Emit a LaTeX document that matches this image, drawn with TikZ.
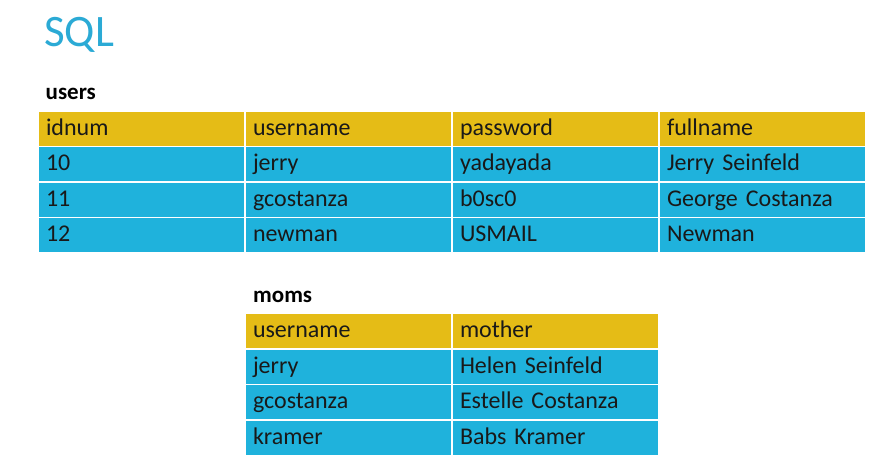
\documentclass[tikz,border=0pt]{standalone}
\usepackage{fontspec}
\setmainfont{Carlito}
\definecolor{headgold}{HTML}{E5BC16}
\definecolor{cellblue}{HTML}{1FB2DC}
\definecolor{titleblue}{HTML}{2BAAD5}
\tikzset{
  cell/.style={draw=white, line width=1.2pt, outer sep=0pt, inner xsep=8pt, inner ysep=0pt,
    text width=191pt, minimum height=35.5pt, text height=17pt, text depth=4pt,
    font=\fontsize{24}{28}\selectfont, text=black!90, anchor=north west},
  headcell/.style={cell, fill=headgold},
  bodycell/.style={cell, fill=cellblue},
  tablename/.style={font=\bfseries\fontsize{23}{27}\selectfont, anchor=base west, inner sep=0pt}
}
\begin{document}
\begin{tikzpicture}[x=1pt,y=-1pt]
    \useasboundingbox (0,0) rectangle (892,470);

    % title
    \node [anchor=base west, inner sep=0pt, text=titleblue, font=\fontsize{45}{50}\selectfont] (title) at (44,46.5) {SQL};

    % users table
    \node [tablename] (users) at (45.5,99.3) {users};
    \foreach \t [count=\i from 0] in {idnum,username,password,fullname}
        \node [headcell] (users-0-\i) at (38+207*\i,111) {\t};
    \foreach \a/\b/\c/\d [count=\r] in {10/jerry/yadayada/Jerry Seinfeld,
                                       11/gcostanza/b0sc0/George Costanza,
                                       12/newman/USMAIL/Newman} {
        \node [bodycell] (users-\r-0) at (38,111+35.5*\r) {\a};
        \node [bodycell] (users-\r-1) at (245,111+35.5*\r) {\b};
        \node [bodycell] (users-\r-2) at (452,111+35.5*\r) {\c};
        \node [bodycell] (users-\r-3) at (659,111+35.5*\r) {\d};
    }

    % moms table
    \node [tablename] (moms) at (253,302.3) {moms};
    \node [headcell] (moms-0-0) at (245,313.5) {username};
    \node [headcell] (moms-0-1) at (452,313.5) {mother};
    \foreach \a/\b [count=\r] in {jerry/Helen Seinfeld,
                                  gcostanza/Estelle Costanza,
                                  kramer/Babs Kramer} {
        \node [bodycell] (moms-\r-0) at (245,313.5+35.5*\r) {\a};
        \node [bodycell] (moms-\r-1) at (452,313.5+35.5*\r) {\b};
    }
\end{tikzpicture}
\end{document}
